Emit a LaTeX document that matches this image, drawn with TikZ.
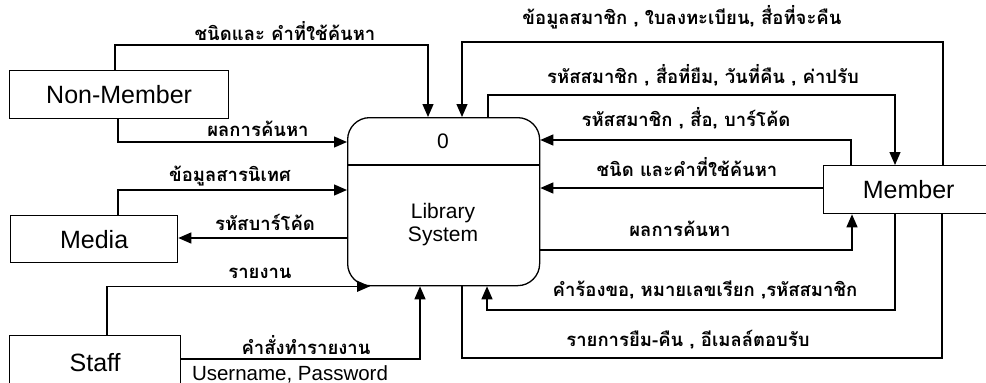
\documentclass[tikz,border=0pt]{standalone}
\usepackage{fontspec}
\setmainfont{Liberation Sans}
\newfontfamily\thai[Script=Thai]{Loma}
\usetikzlibrary{arrows.meta}

\tikzset{
  entity/.style={draw, line width=1.3pt, anchor=north west, inner sep=0pt, font=\fontsize{25}{28}\selectfont},
  process/.style={draw, line width=1.3pt, anchor=north west, rounded corners=22pt, inner sep=0pt},
  flow/.style={line width=1.3pt, -{Triangle[length=13pt,width=11pt]}},
  plain/.style={line width=1.3pt},
  lab/.style={font=\thai\bfseries\fontsize{18.5}{20}\selectfont, inner sep=0pt}
}

\begin{document}
\begin{tikzpicture}[x=1pt,y=-1pt]
      \useasboundingbox (0,0) rectangle (986,383);
      % the process
      \node[process, minimum width=192pt, minimum height=168pt] (sys) at (347,117) {};
      \draw[plain] (sys.west |- 0,165) -- (sys.east |- 0,165);
      \node[font=\fontsize{21}{24}\selectfont] (num) at (443,141) {0};
      \node[align=center, font=\fontsize{21}{23}\selectfont] (name) at (443,225) {Library\\System};
      % outside entities
      \node[entity, minimum width=219pt, minimum height=48pt] (nm) at (9,70) {Non-Member};
      \node[entity, minimum width=167pt, minimum height=47pt] (media) at (10,215) {Media};
      \node[entity, minimum width=171pt, minimum height=54pt] (staff) at (9,335) {Staff};
      \node[entity, minimum width=170pt, minimum height=48pt] (mem) at (823,165) {Member};
      % Non-Member
      \draw[flow] (nm.north -| 115,0) |- (428,45) -- (sys.north -| 428,0);
      \node[lab] (kwNM) at (285,31) {ชนิดและ คำที่ใช้ค้นหา};
      \draw[flow] (nm.south -| 118,0) |- (sys.west |- 0,142);
      \node[lab] (resNM) at (258,129) {ผลการค้นหา};
      % Media
      \draw[flow] (media.north -| 118,0) |- (sys.west |- 0,190);
      \node[lab] (info) at (230,176) {ข้อมูลสารนิเทศ};
      \draw[flow] (sys.west |- 0,238) -- (media.east |- 0,238);
      \node[lab] (bar) at (265,222) {รหัสบาร์โค้ด};
      % Staff
      \draw[flow] (staff.north -| 107,0) |- (sys.south -| 370,0);
      \node[lab] (rep) at (260,273) {รายงาน};
      \draw[flow] (staff.east |- 0,359) -| (sys.south -| 420,0);
      \node[lab] (cmd) at (306,345) {คำสั่งทำรายงาน};
      \node[font=\fontsize{20.5}{24}\selectfont, inner sep=0pt] (login) at (290,374) {Username, Password};
      % Member
      \draw[flow] (mem.north -| 943,0) |- (462,42) -- (sys.north -| 462,0);
      \node[lab] (reg) at (682,17) {ข้อมูลสมาชิก , ใบลงทะเบียน, สื่อที่จะคืน};
      \draw[flow] (sys.north -| 488,0) |- (895,95) -- (mem.north -| 895,0);
      \node[lab] (fine) at (703,75) {รหัสสมาชิก , สื่อที่ยืม, วันที่คืน , ค่าปรับ};
      \draw[flow] (mem.north -| 851,0) |- (sys.east |- 0,140);
      \node[lab] (code) at (686,118) {รหัสสมาชิก , สื่อ,  บาร์โค้ด};
      \draw[flow] (mem.west |- 0,188) -- (sys.east |- 0,188);
      \node[lab] (kwM) at (687,167) {ชนิด และคำที่ใช้ค้นหา};
      \draw[flow] (sys.east |- 0,250) -| (mem.south -| 852,0);
      \node[lab] (resM) at (680,229) {ผลการค้นหา};
      \draw[flow] (mem.south -| 895,0) |- (487,310) -- (sys.south -| 487,0);
      \node[lab] (req) at (705,290) {คำร้องขอ, หมายเลขเรียก ,รหัสสมาชิก};
      \draw[plain] (mem.south -| 942,0) |- (462,358) -- (sys.south -| 462,0);
      \node[lab] (loan) at (688,340) {รายการยืม-คืน , อีเมลล์ตอบรับ};
\end{tikzpicture}
\end{document}
